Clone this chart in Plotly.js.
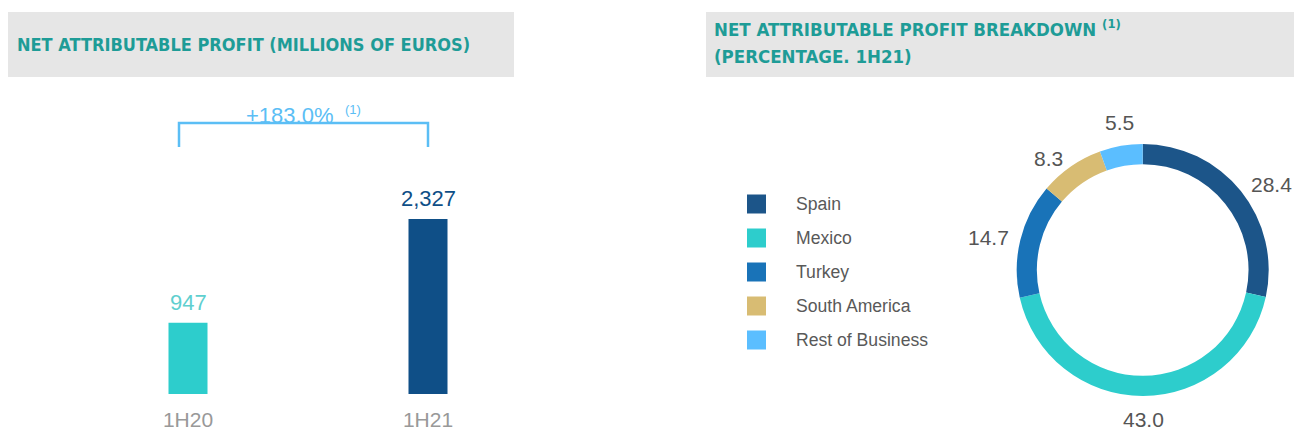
<!DOCTYPE html>
<html>
<head>
<meta charset="utf-8">
<script src="https://cdn.plot.ly/plotly-3.0.1.min.js"></script>
<style>html,body{margin:0;padding:0;background:#fff;}#chart{width:1294px;height:432px;}</style>
</head>
<body>
<div id="chart"></div>
<script>
// ---- data ----
var periods = ["1H20", "1H21"];
var profit = [947, 2327];
var growthLabel = "+183.0%";
var regions = ["Spain", "Mexico", "Turkey", "South America", "Rest of Business"];
var shares = [28.4, 43.0, 14.7, 8.3, 5.5];

// ---- styles ----
var barColors = ["#2dcdcc", "#0f4f87"];
var barLabelColors = ["#5fcfcf", "#0f4f87"];
var sliceColors = ["#1c5589", "#2dcdcc", "#1973b8", "#d8bc73", "#5bbeff"];
var W = 1294, H = 432;
function px(x){ return x / W; }
function py(y){ return 1 - y / H; }
var titleFont = "'Liberation Sans Narrow', 'DejaVu Sans Condensed', 'Roboto Condensed', Roboto, sans-serif";
var bodyFont = "Arial, 'Liberation Sans', sans-serif";
var teal = "#1e9c97";

// donut geometry (pixels)
var pieCx = 1142.7, pieCy = 270, pieR = 126;

var bar = {
  type: "bar", x: periods, y: profit,
  marker: {color: barColors}, width: 0.1625,
  hoverinfo: "skip", showlegend: false
};
var pie = {
  type: "pie", labels: regions, values: shares,
  marker: {colors: sliceColors, line: {width: 0}},
  hole: 0.84, sort: false, direction: "clockwise", rotation: 0,
  textinfo: "none",
  domain: {x: [px(pieCx - pieR), px(pieCx + pieR)], y: [py(pieCy + pieR), py(pieCy - pieR)]},
  showlegend: false, hoverinfo: "skip"
};

var shapes = [
  {type: "rect", xref: "paper", yref: "paper", x0: px(8), x1: px(514), y0: py(77), y1: py(12), fillcolor: "#e6e6e6", line: {width: 0}, layer: "below"},
  {type: "rect", xref: "paper", yref: "paper", x0: px(706), x1: px(1294), y0: py(77), y1: py(12), fillcolor: "#e6e6e6", line: {width: 0}, layer: "below"},
  {type: "path", xref: "paper", yref: "paper",
   path: "M" + px(179) + "," + py(147) + " L" + px(179) + "," + py(123) + " L" + px(428) + "," + py(123) + " L" + px(428) + "," + py(147),
   line: {color: "#5bbef5", width: 2.5}}
];
var annotations = [
  {xref: "paper", yref: "paper", x: px(15), y: py(45), xanchor: "left", yanchor: "middle", showarrow: false,
   text: "<b>NET ATTRIBUTABLE PROFIT (MILLIONS OF EUROS)</b>", font: {family: titleFont, size: 18, color: teal}},
  {xref: "paper", yref: "paper", x: px(712), y: py(28), xanchor: "left", yanchor: "middle", showarrow: false,
   text: "<b>NET ATTRIBUTABLE PROFIT BREAKDOWN <sup>(1)</sup></b>", font: {family: titleFont, size: 18.5, color: teal}},
  {xref: "paper", yref: "paper", x: px(712), y: py(56), xanchor: "left", yanchor: "middle", showarrow: false,
   text: "<b>(PERCENTAGE. 1H21)</b>", font: {family: titleFont, size: 18.5, color: teal}},
  {xref: "paper", yref: "paper", x: px(289), y: py(115), xanchor: "center", yanchor: "middle", showarrow: false,
   text: growthLabel, font: {family: bodyFont, size: 22, color: "#5bbef5"}},
  {xref: "paper", yref: "paper", x: px(353), y: py(109), xanchor: "center", yanchor: "middle", showarrow: false,
   text: "(1)", font: {family: bodyFont, size: 13, color: "#5bbef5"}}
];
periods.forEach(function(p, i){
  annotations.push({xref: "x", yref: "y", x: p, y: profit[i], xanchor: "center", yanchor: "bottom", yshift: 6,
    showarrow: false, text: profit[i].toLocaleString("en-US"),
    font: {family: bodyFont, size: 22, color: barLabelColors[i]}});
});
// legend
regions.forEach(function(r, i){
  var cy = 204 + i * 34;
  shapes.push({type: "rect", xref: "paper", yref: "paper", x0: px(747), x1: px(766), y0: py(cy + 9.5), y1: py(cy - 9.5),
    fillcolor: sliceColors[i], line: {width: 0}});
  annotations.push({xref: "paper", yref: "paper", x: px(794), y: py(cy), xanchor: "left", yanchor: "middle",
    showarrow: false, text: r, font: {family: bodyFont, size: 17.6, color: "#595959"}});
});
// donut value labels, placed at each slice's mid-angle just outside the ring
var total = shares.reduce(function(a, b){ return a + b; }, 0);
var cum = 0, labelR = pieR + 10;
shares.forEach(function(v, i){
  var a = 2 * Math.PI * (cum + v / 2) / total;
  cum += v;
  var ux = Math.sin(a), uy = -Math.cos(a);
  var lx = pieCx + labelR * ux, ly = pieCy + labelR * uy;
  annotations.push({xref: "paper", yref: "paper", x: px(lx), y: py(ly),
    xanchor: ux > 0.3 ? "left" : (ux < -0.3 ? "right" : "center"),
    yanchor: uy < -0.9 ? "bottom" : (uy > 0.9 ? "top" : "middle"),
    showarrow: false, text: v.toFixed(1),
    font: {family: bodyFont, size: 21, color: "#555555"}});
});

var layout = {
  width: W, height: H,
  margin: {l: 0, r: 0, t: 0, b: 0},
  paper_bgcolor: "#ffffff", plot_bgcolor: "rgba(0,0,0,0)",
  xaxis: {domain: [px(68), px(548)], range: [-0.5, 1.5], type: "category",
    showgrid: false, zeroline: false, showline: false, ticks: "",
    tickfont: {family: bodyFont, size: 21, color: "#999999"}, ticklabelstandoff: 11, fixedrange: true},
  yaxis: {domain: [py(394), py(168.4)], range: [0, 3000], visible: false, fixedrange: true},
  shapes: shapes, annotations: annotations,
  showlegend: false
};
Plotly.newPlot("chart", [bar, pie], layout, {displayModeBar: false, staticPlot: true});
</script>
</body>
</html>
